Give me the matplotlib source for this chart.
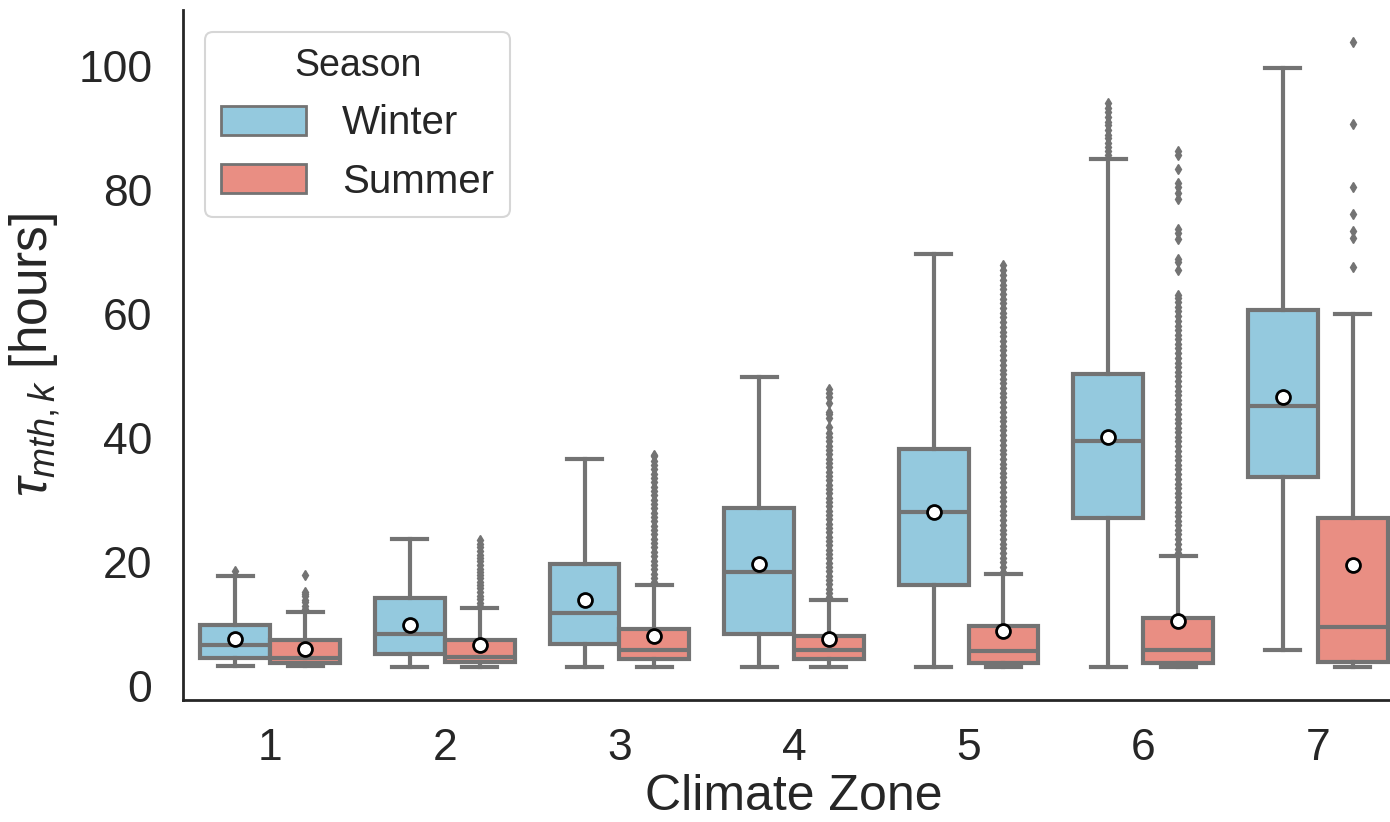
import matplotlib
matplotlib.use("Agg")
import matplotlib.pyplot as plt
from matplotlib.patches import Patch

plt.rcParams["font.family"] = ["Liberation Sans", "DejaVu Sans"]
plt.rcParams["mathtext.fontset"] = "custom"
plt.rcParams["mathtext.rm"] = "Liberation Sans"
plt.rcParams["mathtext.it"] = "Liberation Sans:italic"

# data
zones = ["1", "2", "3", "4", "5", "6", "7"]
seasons = ["Winter", "Summer"]

winter_lo = [3.2, 3.1, 3.0, 3.0, 3.0, 3.0, 5.8]
winter_q1 = [4.5, 5.2, 6.7, 8.4, 16.3, 27.0, 33.6]
winter_med = [6.6, 8.4, 11.7, 18.3, 28.0, 39.5, 45.2]
winter_q3 = [9.8, 14.1, 19.7, 28.6, 38.2, 50.3, 60.6]
winter_hi = [17.7, 23.7, 36.6, 49.8, 69.6, 84.9, 99.6]
winter_mean = [7.6, 9.8, 13.9, 19.7, 28.1, 40.2, 46.6]
winter_fliers = [
    [18.5],
    [],
    [],
    [],
    [],
    [85.6, 86.2, 86.9, 87.5, 88.3, 88.9, 89.6, 90.4, 91.0, 91.7, 92.5, 93.2, 94.0],
    [],
]

summer_lo = [3.2, 3.1, 3.0, 3.0, 3.0, 3.0, 3.0]
summer_q1 = [3.6, 3.9, 4.3, 4.3, 3.6, 3.7, 3.9]
summer_med = [4.5, 4.7, 5.8, 5.7, 5.6, 5.8, 9.5]
summer_q3 = [7.3, 7.4, 9.1, 8.1, 9.6, 11.0, 27.0]
summer_hi = [11.9, 12.5, 16.2, 13.9, 18.0, 21.0, 60.0]
summer_mean = [5.9, 6.5, 8.1, 7.5, 8.8, 10.4, 19.5]
summer_fliers = [
    [12.4, 12.9, 13.5, 13.9, 14.4, 14.8, 15.2, 17.9],
    [12.9, 13.4, 14.0, 14.5, 15.1, 15.7, 16.2, 16.7, 17.3, 17.9, 18.4, 18.9,
     19.5, 20.1, 20.6, 21.1, 21.7, 22.3, 22.8, 23.5],
    [16.7, 17.3, 18.1, 18.8, 19.4, 20.2, 20.9, 21.5, 22.3, 23.0, 23.6, 24.4,
     25.1, 25.7, 26.5, 27.2, 27.8, 28.6, 29.3, 29.9, 30.7, 31.4, 32.0, 32.8,
     33.5, 34.1, 34.9, 35.6, 36.2, 37.0, 37.3],
    [14.3, 14.9, 15.6, 16.4, 17.1, 17.7, 18.5, 19.2, 19.8, 20.6, 21.3, 21.9,
     22.7, 23.4, 24.0, 24.8, 25.5, 26.1, 26.9, 27.6, 28.2, 29.0, 29.7, 30.3,
     31.1, 31.8, 32.4, 33.2, 33.9, 34.5, 35.3, 36.0, 36.6, 37.4, 38.1, 38.7,
     39.5, 40.2, 40.8, 41.8, 43.2, 43.8, 44.2, 45.6, 46.5, 47.2, 47.9],
    [18.4, 19.1, 19.9, 20.6, 21.4, 22.2, 22.9, 23.7, 24.4, 25.2, 26.0, 26.7,
     27.5, 28.2, 29.0, 29.8, 30.5, 31.3, 32.0, 32.8, 33.6, 34.3, 35.1, 35.8,
     36.6, 37.4, 38.1, 38.9, 39.6, 40.4, 41.2, 41.9, 42.7, 43.4, 44.2, 45.0,
     45.7, 46.5, 47.2, 48.0, 48.8, 49.5, 50.3, 51.0, 51.8, 52.6, 53.3, 54.1,
     54.8, 55.6, 56.4, 57.1, 57.9, 58.6, 59.4, 60.2, 60.9, 61.7, 62.4, 63.2,
     64.0, 64.7, 65.5, 66.2, 67.0, 67.9],
    [21.4, 22.1, 22.9, 23.6, 24.4, 25.1, 25.9, 26.6, 27.4, 28.1, 28.9, 29.6,
     30.4, 31.1, 31.9, 32.6, 33.4, 34.1, 34.9, 35.6, 36.4, 37.1, 37.9, 38.6,
     39.4, 40.1, 40.9, 41.6, 42.4, 43.1, 43.9, 44.6, 45.4, 46.1, 46.9, 47.6,
     48.4, 49.1, 49.9, 50.6, 51.4, 52.1, 52.9, 53.6, 54.4, 55.1, 55.9, 56.6,
     57.4, 58.1, 58.9, 59.6, 60.4, 61.1, 61.9, 62.6, 63.1,
     67.0, 68.3, 68.9, 72.1, 73.1, 73.7, 78.5, 79.5, 80.4, 81.1, 83.3, 85.6, 86.2],
    [67.6, 72.2, 73.3, 76.1, 80.4, 90.6, 103.9],
]

winter_color = "#94C9DE"
summer_color = "#E98E83"
line_color = "#737373"
text_color = "#262626"


def make_stats(lo, q1, med, q3, hi, mean, fliers):
    stats = []
    for i in range(len(lo)):
        stats.append(dict(whislo=lo[i], q1=q1[i], med=med[i], q3=q3[i],
                          whishi=hi[i], mean=mean[i], fliers=fliers[i]))
    return stats


def draw_boxes(ax, stats, offset, color):
    ax.bxp(
        stats,
        positions=[i + offset for i in range(len(stats))],
        widths=0.4,
        capwidths=0.2,
        patch_artist=True,
        showmeans=True,
        manage_ticks=False,
        boxprops=dict(facecolor=color, edgecolor=line_color, linewidth=3),
        whiskerprops=dict(color=line_color, linewidth=3),
        capprops=dict(color=line_color, linewidth=3),
        medianprops=dict(color=line_color, linewidth=3),
        flierprops=dict(marker="d", markerfacecolor=line_color,
                        markeredgecolor=line_color, markersize=5,
                        linestyle="none"),
        meanprops=dict(marker="o", markerfacecolor="white",
                       markeredgecolor="black", markersize=10,
                       markeredgewidth=2, zorder=5),
    )


fig = plt.figure(figsize=(13.9, 8.22), dpi=100)
ax = fig.add_axes([183 / 1390, 122 / 822, 1222 / 1390, 690 / 822])

winter_stats = make_stats(winter_lo, winter_q1, winter_med, winter_q3,
                          winter_hi, winter_mean, winter_fliers)
summer_stats = make_stats(summer_lo, summer_q1, summer_med, summer_q3,
                          summer_hi, summer_mean, summer_fliers)
draw_boxes(ax, winter_stats, -0.2, winter_color)
draw_boxes(ax, summer_stats, 0.2, summer_color)

ax.set_xlim(-0.5, 6.5)
ax.set_ylim(-2.3, 109)
ax.set_xticks(range(len(zones)))
ax.set_xticklabels(zones)
ax.set_yticks(range(0, 101, 20))
ax.tick_params(axis="both", length=0, labelsize=32, colors=text_color)
ax.tick_params(axis="x", pad=20)
ax.tick_params(axis="y", pad=22)

for side in ["top", "right"]:
    ax.spines[side].set_visible(False)
for side in ["left", "bottom"]:
    ax.spines[side].set_color(text_color)
    ax.spines[side].set_linewidth(2)

ax.set_xlabel("Climate Zone", fontsize=36, color=text_color, labelpad=4)
ax.set_ylabel(r"$\tau_{mth,k}$ [hours]", fontsize=37, color=text_color,
              labelpad=12)

handles = [
    Patch(facecolor=winter_color, edgecolor=line_color, linewidth=2),
    Patch(facecolor=summer_color, edgecolor=line_color, linewidth=2),
]
leg = ax.legend(handles, seasons, title="Season", loc="upper left",
                fontsize=29, title_fontsize=27, borderaxespad=0.55,
                handlelength=2.1, handleheight=0.75, handletextpad=0.9,
                labelspacing=0.5, frameon=True, fancybox=True)
leg.get_frame().set_edgecolor("#cccccc")
leg.get_frame().set_linewidth(1.5)
for t in leg.get_texts():
    t.set_color(text_color)
leg.get_title().set_color(text_color)

fig.savefig("out.png", dpi=100)
